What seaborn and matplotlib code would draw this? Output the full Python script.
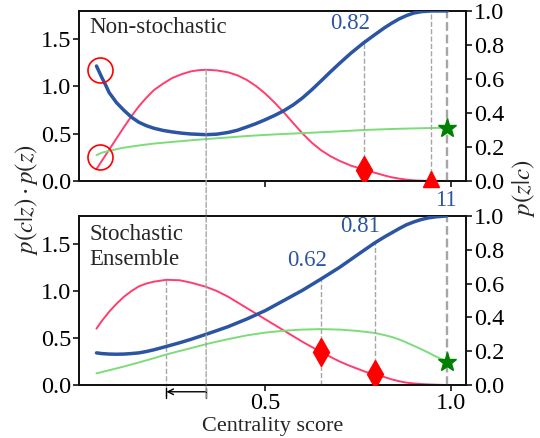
import numpy as np
import pandas as pd
import seaborn as sns
import matplotlib.pyplot as plt
from matplotlib.patches import ConnectionPatch

# ---- values ----
# top panel ("Non-stochastic"): blue on the right axis, pink/green on the left axis
x_blue_top = [0.046, 0.06, 0.07, 0.08, 0.10, 0.12, 0.14, 0.16, 0.18, 0.20, 0.225, 0.25,
              0.275, 0.30, 0.341, 0.37, 0.40, 0.425, 0.45, 0.475, 0.50, 0.525, 0.55,
              0.575, 0.60, 0.625, 0.65, 0.675, 0.70, 0.73, 0.765, 0.79, 0.82, 0.84,
              0.86, 0.88, 0.90, 0.92, 0.946, 0.99]
blue_top = [0.676, 0.61, 0.567, 0.52, 0.46, 0.415, 0.375, 0.345, 0.325, 0.31, 0.297, 0.288,
            0.281, 0.276, 0.272, 0.275, 0.285, 0.298, 0.317, 0.337, 0.36, 0.385, 0.413,
            0.447, 0.488, 0.536, 0.588, 0.641, 0.692, 0.751, 0.813, 0.853, 0.9, 0.928,
            0.953, 0.973, 0.988, 0.996, 1.0, 1.0]

x_pink_top = [0.046, 0.06, 0.08, 0.10, 0.12, 0.14, 0.16, 0.18, 0.20, 0.225, 0.25, 0.275,
              0.30, 0.32, 0.341, 0.37, 0.40, 0.425, 0.45, 0.475, 0.50, 0.525, 0.55,
              0.575, 0.60, 0.625, 0.65, 0.675, 0.70, 0.73, 0.765, 0.79, 0.82, 0.84,
              0.86, 0.88, 0.90, 0.92, 0.946, 0.99]
pink_top = [0.124, 0.21, 0.33, 0.45, 0.57, 0.685, 0.79, 0.88, 0.96, 1.03, 1.09, 1.13,
            1.16, 1.172, 1.177, 1.17, 1.15, 1.118, 1.07, 1.005, 0.925, 0.83, 0.725,
            0.613, 0.503, 0.405, 0.325, 0.262, 0.212, 0.162, 0.12, 0.092, 0.058, 0.038,
            0.024, 0.013, 0.006, 0.002, 0.0, 0.0]

x_green_top = [0.046, 0.06, 0.08, 0.10, 0.12, 0.16, 0.20, 0.25, 0.30, 0.341, 0.40, 0.45,
               0.50, 0.55, 0.60, 0.65, 0.70, 0.765, 0.82, 0.86, 0.90, 0.946, 0.99]
green_top = [0.273, 0.298, 0.318, 0.336, 0.352, 0.375, 0.395, 0.413, 0.43, 0.443, 0.46,
             0.475, 0.487, 0.497, 0.506, 0.515, 0.525, 0.539, 0.547, 0.552, 0.556, 0.56, 0.563]

# bottom panel ("Stochastic Ensemble")
x_blue_bot = [0.046, 0.06, 0.08, 0.10, 0.12, 0.14, 0.16, 0.18, 0.20, 0.234, 0.27, 0.30,
              0.341, 0.37, 0.40, 0.45, 0.50, 0.55, 0.60, 0.65, 0.70, 0.75, 0.794, 0.82,
              0.84, 0.86, 0.88, 0.90, 0.92, 0.94, 0.96, 0.988]
blue_bot = [0.19, 0.186, 0.183, 0.182, 0.183, 0.186, 0.19, 0.198, 0.208, 0.228, 0.25, 0.27,
            0.30, 0.322, 0.345, 0.39, 0.44, 0.50, 0.56, 0.627, 0.696, 0.773, 0.84, 0.875,
            0.90, 0.925, 0.948, 0.965, 0.979, 0.989, 0.995, 1.0]

x_pink_bot = [0.046, 0.06, 0.08, 0.10, 0.12, 0.14, 0.16, 0.18, 0.20, 0.234, 0.27, 0.30,
              0.341, 0.37, 0.40, 0.425, 0.45, 0.475, 0.50, 0.525, 0.55, 0.575, 0.60,
              0.625, 0.65, 0.675, 0.70, 0.725, 0.75, 0.77, 0.794, 0.82, 0.84, 0.86,
              0.88, 0.90, 0.92, 0.94, 0.96, 0.988]
pink_bot = [0.60, 0.68, 0.78, 0.865, 0.94, 1.0, 1.05, 1.08, 1.10, 1.12, 1.115, 1.09,
            1.045, 1.0, 0.94, 0.88, 0.82, 0.76, 0.70, 0.64, 0.58, 0.52, 0.46,
            0.405, 0.353, 0.30, 0.25, 0.208, 0.17, 0.14, 0.113, 0.085, 0.06, 0.04,
            0.025, 0.016, 0.01, 0.006, 0.003, 0.0]

x_green_bot = [0.046, 0.08, 0.12, 0.16, 0.20, 0.234, 0.27, 0.30, 0.341, 0.37, 0.40, 0.45,
               0.50, 0.55, 0.60, 0.65, 0.70, 0.75, 0.794, 0.82, 0.84, 0.86, 0.88, 0.90,
               0.92, 0.94, 0.96, 0.975, 0.988]
green_bot = [0.124, 0.157, 0.197, 0.24, 0.285, 0.325, 0.362, 0.392, 0.435, 0.462, 0.488,
             0.528, 0.558, 0.578, 0.59, 0.595, 0.59, 0.575, 0.554, 0.532, 0.512, 0.485,
             0.452, 0.417, 0.38, 0.342, 0.302, 0.273, 0.247]

# highlighted points (left-axis units)
top_peak = (0.341, 1.177)
top_diamond = (0.765, 0.12)
top_triangle = (0.946, 0.02)
top_star = (0.99, 0.563)
top_circles_x = [0.055, 0.056]
top_circles_y = [1.17, 0.248]
top_vlines = [0.946, 0.99]

bot_peak = (0.234, 1.12)
bot_diamonds_x = [0.65, 0.794]
bot_diamonds_y = [0.353, 0.113]
bot_blue_at = [0.627, 0.84]
bot_star = (0.988, 0.247)

top_labels = [("0.82", 0.729, 0.925)]
bot_labels = [("0.62", 0.612, 0.735), ("0.81", 0.756, 0.94), ("11", 0.985, 1.09)]

BLUE = "#2b55a3"
PINK = "#ff3d6e"
GREEN = "#7ddc7a"
DASH = "#a6a6a6"

sns.set_style("ticks")
plt.rcParams["font.family"] = ["Liberation Serif", "DejaVu Serif"]
plt.rcParams["mathtext.fontset"] = "stix"
plt.rcParams["xtick.labelsize"] = 17.5
plt.rcParams["ytick.labelsize"] = 17.5
plt.rcParams["xtick.color"] = "black"
plt.rcParams["ytick.color"] = "black"

fig = plt.figure(figsize=(5.4, 4.38), dpi=100)
ax1 = fig.add_axes([0.147, 0.587, 0.716, 0.388])
ax2 = fig.add_axes([0.147, 0.121, 0.716, 0.386])
ax1r = ax1.twinx()
ax2r = ax2.twinx()

panels = [
    (ax1, ax1r, x_blue_top, blue_top, x_pink_top, pink_top, x_green_top, green_top),
    (ax2, ax2r, x_blue_bot, blue_bot, x_pink_bot, pink_bot, x_green_bot, green_bot),
]
for ax, axr, xb, yb, xp, yp, xg, yg in panels:
    ax.set_xlim(0, 1.04)
    ax.set_ylim(0, 1.8)
    axr.set_ylim(0, 1.0)
    sns.lineplot(x=xp, y=yp, ax=ax, color=PINK, lw=1.4)
    sns.lineplot(x=xg, y=yg, ax=ax, color=GREEN, lw=1.4)
    sns.lineplot(x=xb, y=yb, ax=axr, color=BLUE, lw=2.5, zorder=3)
    ax.set_xlim(0, 1.04)
    ax.set_ylim(0, 1.8)
    axr.set_ylim(0, 1.0)
    ax.set_yticks([0, 0.5, 1.0, 1.5])
    axr.set_yticks([0, 0.2, 0.4, 0.6, 0.8, 1.0])
    ax.set_xticks([0.5, 1.0])
    for a in (ax, axr):
        for s in a.spines.values():
            s.set_visible(True)
            s.set_color("#111111")
            s.set_linewidth(1.3)
        a.tick_params(length=4, width=1.1, pad=2)

ax1.set_xticklabels([])
ax2.set_xticklabels(["0.5", "1.0"])
ax2.set_xlabel("Centrality score", fontsize=16, labelpad=2)

# ---- top panel decorations ----
dkw = dict(color=DASH, ls="--", lw=1.0, zorder=1)
ax1r.plot([top_diamond[0]] * 2, [0, 0.813], **dkw)
ax1r.plot([top_vlines[0]] * 2, [0, 1.0], **dkw)
ax1r.plot([top_vlines[1]] * 2, [0, 1.0], color=DASH, ls="--", lw=1.7, zorder=1)
# markers go on the twin axes (drawn above the dashed lines) but use left-axis units
t1 = ax1.transData
ax1r.plot(*top_diamond, marker="d", ms=14, color="red", zorder=5, transform=t1)
ax1r.plot(*top_triangle, marker="^", ms=11, color="red", zorder=5, clip_on=False, transform=t1)
ax1r.plot(*top_star, marker="*", ms=14, color="green", zorder=5, transform=t1)
ax1r.plot(top_circles_x, top_circles_y, ls="none", marker="o", ms=18,
          mfc="none", mec="red", mew=1.2, zorder=5, transform=t1)
for t, xv, yv in top_labels:
    ax1r.text(xv, yv, t, color=BLUE, fontsize=16.5, ha="center", va="center")
ax1.text(0.025, 0.9, "Non-stochastic", transform=ax1.transAxes, fontsize=16.5,
         ha="left", va="center")

# dashed line from the top peak down to the arrow below the lower panel
con = ConnectionPatch(xyA=top_peak, coordsA=ax1.transData,
                      xyB=(top_peak[0], -0.14), coordsB=ax2.transData,
                      color=DASH, ls="--", lw=1.0)
fig.add_artist(con)

# ---- bottom panel decorations ----
ax2.plot([bot_peak[0]] * 2, [bot_peak[1], -0.14], clip_on=False, **dkw)
for xv, bv in zip(bot_diamonds_x, bot_blue_at):
    ax2r.plot([xv, xv], [0, bv], **dkw)
ax2r.plot([bot_star[0]] * 2, [0, 1.0], color=DASH, ls="--", lw=1.7, zorder=1)
t2 = ax2.transData
ax2r.plot(bot_diamonds_x, bot_diamonds_y, ls="none", marker="d", ms=14, color="red",
          zorder=5, transform=t2)
ax2r.plot(*bot_star, marker="*", ms=14, color="green", zorder=5, transform=t2)
for t, xv, yv in bot_labels:
    ax2r.text(xv, yv, t, color=BLUE, fontsize=16.5, ha="center", va="center", clip_on=False)
ax2.text(0.025, 0.95, "Stochastic\nEnsemble", transform=ax2.transAxes, fontsize=16.5,
         ha="left", va="top", linespacing=1.25)

# arrow between the two peaks
ax2.annotate("", xy=(bot_peak[0], -0.072), xytext=(top_peak[0], -0.072),
             xycoords="data", annotation_clip=False,
             arrowprops=dict(arrowstyle="->", color="black", lw=1.0, shrinkA=0, shrinkB=0))
for xv in (bot_peak[0], top_peak[0]):
    ax2.plot([xv, xv], [-0.03, -0.135], color="black", lw=1.0, clip_on=False)

for ax, axr in [(ax1, ax1r), (ax2, ax2r)]:
    ax.set_xlim(0, 1.04)
    ax.set_ylim(0, 1.8)
    axr.set_ylim(0, 1.0)

fig.text(0.05, 0.545, r"$p(c|z)\cdot p(z)$", rotation=90, fontsize=18,
         ha="center", va="center")
fig.text(0.97, 0.57, r"$p(z|c)$", rotation=90, fontsize=18,
         ha="center", va="center")

fig.savefig("out.png", dpi=100)
